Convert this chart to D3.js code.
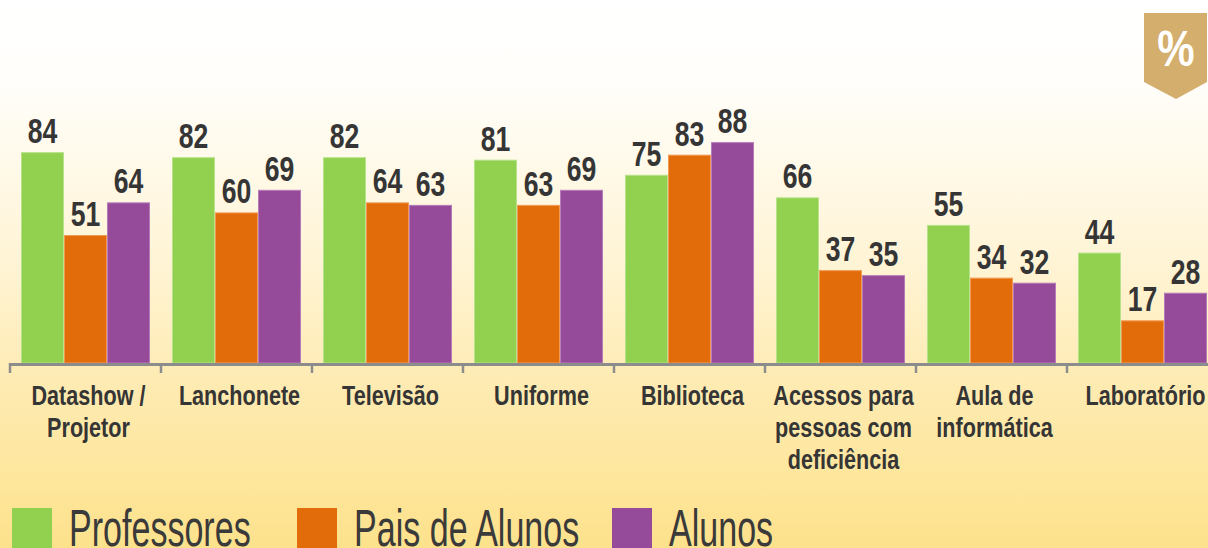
<!DOCTYPE html>
<html>
<head>
<meta charset="utf-8">
<script src="https://cdn.jsdelivr.net/npm/d3@7"></script>
<style>
  html, body { margin: 0; padding: 0; overflow: hidden; }
  svg { display: block; }
</style>
</head>
<body>
<svg id="chart"></svg>
<script>
const categories = ['Datashow / Projetor', 'Lanchonete', 'Televisão', 'Uniforme', 'Biblioteca',
  'Acessos para pessoas com deficiência', 'Aula de informática', 'Laboratório'];
const categoryLines = [
  ['Datashow /', 'Projetor'],
  ['Lanchonete'],
  ['Televisão'],
  ['Uniforme'],
  ['Biblioteca'],
  ['Acessos para', 'pessoas com', 'deficiência'],
  ['Aula de', 'informática'],
  ['Laboratório'],
];
const seriesNames = ['Professores', 'Pais de Alunos', 'Alunos'];
const professores = [84, 82, 82, 81, 75, 66, 55, 44];
const paisDeAlunos = [51, 60, 64, 63, 83, 37, 34, 17];
const alunos = [64, 69, 63, 69, 88, 35, 32, 28];

const COLORS = ['#92d050', '#e36c0a', '#954b99'];
const STROKES = ['#b6e38a', '#f29a55', '#b67cb9'];
const TEXT = '#353535';
const FONT = '"Liberation Sans", Arial, sans-serif';
const W = 1208, H = 548;
const BASE = 363;

const svg = d3.select('#chart').attr('width', W).attr('height', H);

// background
const grad = svg.append('defs').append('linearGradient')
  .attr('id', 'bg').attr('x1', 0).attr('x2', 0).attr('y1', 0).attr('y2', 1);
[[0, '#ffffff'], [0.15, '#fffefa'], [0.5, '#fff3d2'], [0.7, '#feebb2'], [1, '#fde28c']]
  .forEach(([o, c]) => grad.append('stop').attr('offset', o).attr('stop-color', c));
svg.append('rect').attr('width', W).attr('height', H).attr('fill', 'url(#bg)');

const data = categories.map((c, i) => ({
  category: c,
  lines: categoryLines[i],
  values: [professores[i], paisDeAlunos[i], alunos[i]],
}));

const x0 = d3.scaleBand().domain(categories).range([10, 1218]);
const x1 = d3.scaleBand().domain(seriesNames).range([11, 140]);
const y = d3.scaleLinear().domain([0, 100]).range([BASE, 112]);

const group = svg.selectAll('.group')
  .data(data)
  .enter()
  .append('g')
  .attr('class', 'group')
  .attr('transform', d => `translate(${x0(d.category)},0)`);

const bar = group.selectAll('.bar')
  .data(d => d.values.map((v, j) => ({ series: seriesNames[j], value: v, j })))
  .enter()
  .append('g')
  .attr('class', 'bar');

bar.append('rect')
  .attr('x', d => x1(d.series) + 0.5)
  .attr('y', d => y(d.value) + 0.5)
  .attr('width', x1.bandwidth() - 1)
  .attr('height', d => BASE - y(d.value) - 0.5)
  .attr('fill', d => COLORS[d.j])
  .attr('stroke', d => STROKES[d.j])
  .attr('stroke-width', 1);

bar.append('text')
  .attr('transform', d => `translate(${x1(d.series) + x1.bandwidth() / 2},${y(d.value) - 9}) scale(0.76,1)`)
  .attr('text-anchor', 'middle')
  .attr('font-family', FONT)
  .attr('font-weight', 'bold')
  .attr('font-size', 35)
  .attr('fill', TEXT)
  .text(d => d.value);

// axis
const axis = svg.append('g').attr('class', 'axis');
axis.append('line')
  .attr('x1', x0.range()[0]).attr('x2', x0.range()[1])
  .attr('y1', BASE + 1.5).attr('y2', BASE + 1.5)
  .attr('stroke', '#8c8c8c').attr('stroke-width', 3);
axis.selectAll('.tick')
  .data(categories.concat(['end']))
  .enter()
  .append('line')
  .attr('class', 'tick')
  .attr('x1', d => d === 'end' ? x0.range()[1] : x0(d))
  .attr('x2', d => d === 'end' ? x0.range()[1] : x0(d))
  .attr('y1', BASE).attr('y2', BASE + 10)
  .attr('stroke', '#8c8c8c').attr('stroke-width', 2.5);

// category labels
const label = group.append('text')
  .attr('font-family', FONT)
  .attr('font-weight', 'bold')
  .attr('font-size', 27)
  .attr('fill', TEXT)
  .attr('text-anchor', 'middle')
  .attr('transform', `translate(${x0.bandwidth() / 2 + 3},405) scale(0.8,1)`);
label.selectAll('tspan')
  .data(d => d.lines)
  .enter()
  .append('tspan')
  .attr('x', 0)
  .attr('y', (d, i) => i * 32)
  .text(d => d);

// legend
const legendX = [12, 297, 612];
const legend = svg.selectAll('.legend')
  .data(seriesNames)
  .enter()
  .append('g')
  .attr('class', 'legend')
  .attr('transform', (d, i) => `translate(${legendX[i]},508)`);
legend.append('rect')
  .attr('width', 40).attr('height', 42)
  .attr('fill', (d, i) => COLORS[i]);
legend.append('text')
  .attr('transform', 'translate(57,38) scale(0.655,1)')
  .attr('font-family', FONT)
  .attr('font-size', 52)
  .attr('fill', '#3a3a3a')
  .text(d => d);

// percent badge
const badge = svg.append('g').attr('transform', 'translate(1144,13)');
badge.append('path')
  .attr('d', 'M0,0 H63 V69 L32,86 L0,69 Z')
  .attr('fill', '#d4ae6c');
badge.append('text')
  .attr('transform', 'translate(32,53) scale(0.84,1)')
  .attr('text-anchor', 'middle')
  .attr('font-family', FONT)
  .attr('font-weight', 'bold')
  .attr('font-size', 50)
  .attr('fill', '#ffffff')
  .text('%');
</script>
</body>
</html>
